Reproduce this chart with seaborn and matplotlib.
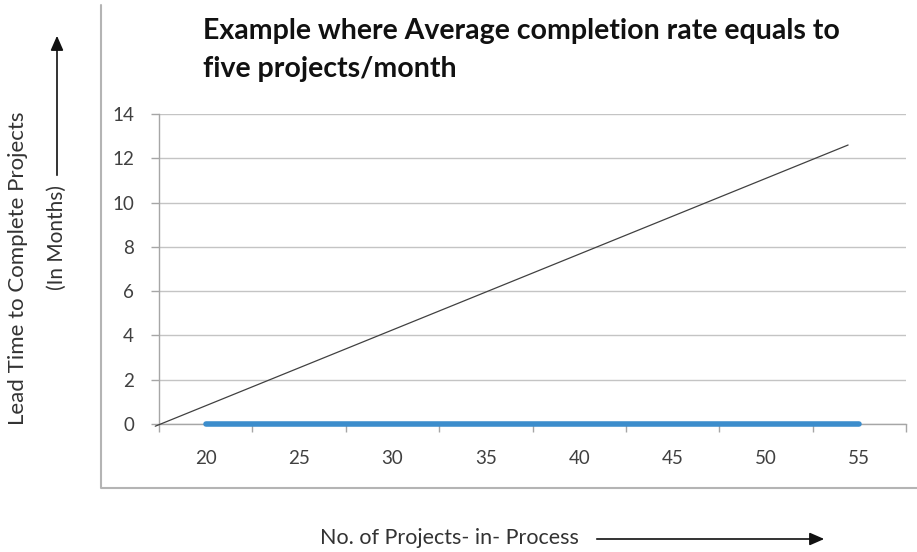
import numpy as np
import pandas as pd
import matplotlib
matplotlib.use("Agg")
import matplotlib.pyplot as plt
from matplotlib.lines import Line2D
from matplotlib.patches import FancyArrowPatch
from matplotlib.ticker import MultipleLocator, FixedLocator
import seaborn as sns

# data
projects_in_process = [20, 25, 30, 35, 40, 45, 50, 55]
lead_time_series = [0, 0, 0, 0, 0, 0, 0, 0]
trend_x = [17.3, 54.4]
trend_y = [-0.1, 12.6]
y_ticks = [0, 2, 4, 6, 8, 10, 12, 14]

title = "Example where Average completion rate equals to\nfive projects/month"
ylabel_1 = "Lead Time to Complete Projects"
ylabel_2 = "(In Months)"
xlabel = "No. of Projects- in- Process"

sns.set_theme(style="white")
plt.rcParams['font.family'] = ['Lato', 'DejaVu Sans']

df = pd.DataFrame({"wip": projects_in_process, "lead": lead_time_series})
trend = pd.DataFrame({"wip": trend_x, "lead": trend_y})

fig = plt.figure(figsize=(9.17, 5.52), dpi=100)
W, H = 917, 552
ax = fig.add_axes([159 / W, 1 - 424 / H, (906 - 159) / W, (424 - 114) / H])

sns.lineplot(data=df, x="wip", y="lead", color="#3c8dcc", lw=4, ax=ax,
             solid_capstyle="round", clip_on=False, zorder=4)
sns.lineplot(data=trend, x="wip", y="lead", color="#404040", lw=0.9, ax=ax,
             clip_on=False, zorder=5)

ax.set_xlim(17.5, 57.5)
ax.set_ylim(0, 14)
ax.xaxis.set_major_locator(FixedLocator(projects_in_process))
ax.xaxis.set_minor_locator(MultipleLocator(5, offset=2.5))
ax.set_yticks(y_ticks)
ax.yaxis.grid(True, color="#c4c4c4", lw=1)
ax.xaxis.grid(False)
for s in ["top", "right"]:
    ax.spines[s].set_visible(False)
for s in ["left", "bottom"]:
    ax.spines[s].set_color("#a6a6a6")
    ax.spines[s].set_linewidth(1)
ax.tick_params(axis="x", which="major", length=0, pad=19, labelsize=13.5, labelcolor="#404040")
ax.tick_params(axis="x", which="minor", length=6, width=1, color="#a6a6a6", direction="out", bottom=True)
ax.tick_params(axis="y", length=6, width=1, color="#a6a6a6", direction="out", left=True,
               pad=12, labelsize=13.5, labelcolor="#404040")
ax.set_xlabel("")
ax.set_ylabel("")

# chart title
fig.text(203 / W, 1 - 18 / H, title, ha="left", va="top", fontsize=20.5, fontweight="bold",
         color="#111111", linespacing=1.55)

# axis titles with arrows
fig.text(18 / W, 1 - 268 / H, ylabel_1, rotation=90, ha="center", va="center",
         fontsize=16, color="#333333")
fig.text(57 / W, 1 - 237 / H, ylabel_2, rotation=90, ha="center", va="center",
         fontsize=15, color="#333333")
fig.text(320 / W, 1 - 538 / H, xlabel, ha="left", va="center", fontsize=15.5, color="#333333")
fig.patches.append(FancyArrowPatch(
    (57 / W, 1 - 178 / H), (57 / W, 1 - 33 / H), transform=fig.transFigure,
    arrowstyle="-|>,head_length=0.8,head_width=0.35", mutation_scale=11, color="#111111", lw=1.2))
fig.patches.append(FancyArrowPatch(
    (594 / W, 1 - 539 / H), (827 / W, 1 - 539 / H), transform=fig.transFigure,
    arrowstyle="-|>,head_length=0.8,head_width=0.35", mutation_scale=11, color="#111111", lw=1.2))

# chart area border
fig.lines.append(Line2D([101 / W, 101 / W, 1.0], [1 - 5 / H, 1 - 488 / H, 1 - 488 / H],
                        transform=fig.transFigure, color="#b4b4b4", lw=1.5))

fig.savefig("out.png", dpi=100)
